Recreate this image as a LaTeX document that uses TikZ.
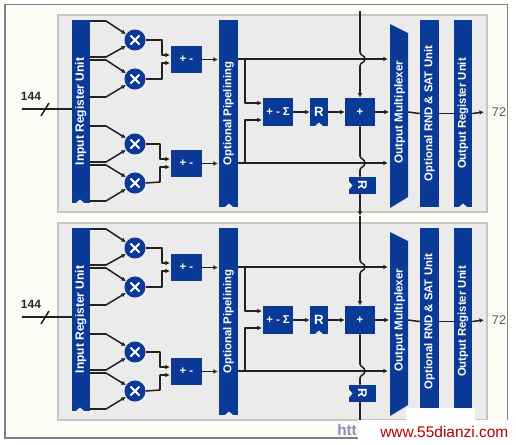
\documentclass[tikz,border=0pt]{standalone}
\usepackage{fontspec}
\setmainfont{Liberation Sans}
\usetikzlibrary{arrows.meta}
\definecolor{xblue}{HTML}{0B3A96}
\definecolor{xpanel}{HTML}{EBEBEB}
\definecolor{xedge}{HTML}{C6C6C6}
\definecolor{xline}{HTML}{222222}
\definecolor{xcream}{HTML}{FDFCF4}
\tikzset{
  lbl/.style={text=white,font=\bfseries\fontsize{8.5}{9}\selectfont},
  bk/.style={fill=xblue,inner sep=0pt,lbl},
  mult/.style={circle,fill=xblue,inner sep=0pt,minimum size=15.8pt},
  wire/.style={draw=xline,line width=1.15pt,line join=round},
  arr/.style={wire,-{Latex[length=3.4pt,width=3.4pt]}},
  notch/.style={fill=xpanel},
}
% block node: name, x1, y1, x2, y2 (reference pixels), text
\newcommand{\bx}[6]{\node[bk,minimum width={(#4-#2)*0.75pt},minimum height={(#5-#3)*0.75pt}] (#1) at ({(#2+#4)/2},{(#3+#5)/2}) {#6};}
\newcommand{\vt}[1]{\rotatebox{90}{#1}}
\newcommand{\ntch}[2]{\path[notch] (#1-4,#2) -- (#1,#2-3.5) -- (#1+4,#2) -- cycle;}
\newcommand{\mulnode}[3]{\node[mult] (#1) at (#2,#3) {};
  \draw[white,line width=1.5pt] ([shift={(-4.5,-4.5)}]#2,#3) -- ([shift={(4.5,4.5)}]#2,#3)
    ([shift={(-4.5,4.5)}]#2,#3) -- ([shift={(4.5,-4.5)}]#2,#3);}
\newcommand{\panel}[2]{%
\begin{scope}[yshift=#2]
  \path[fill=xpanel,draw=xedge,line width=0.8pt] (58,15) rectangle (487,212);
  \bx{#1in}{71.5}{20}{90}{203}{\vt{\fontsize{9}{9}\selectfont Input Register Unit}}\ntch{80}{203}
  \bx{#1pi}{219}{20}{238}{207}{\vt{Optional Pipelining}}\ntch{229}{207}
  \bx{#1s1}{171}{46}{202}{73}{+ -}
  \bx{#1s2}{171}{150}{202}{177}{+ -}
  \mulnode{#1m1}{135}{40}\mulnode{#1m2}{135}{79}\mulnode{#1m3}{135}{144}\mulnode{#1m4}{135}{183}
  \bx{#1sg}{263}{98}{293}{126}{+ - Σ}
  \bx{#1r}{310}{98}{328}{126}{\fontsize{10}{10}\selectfont R}\ntch{319}{126}
  \bx{#1pl}{345}{98}{375}{126}{+}
  \bx{#1rv}{349}{177}{376}{194}{\rotatebox{-90}{\fontsize{9.5}{10}\selectfont R}}
  \path[notch] (349,181.5) -- (352.5,185.5) -- (349,189.5) -- cycle;
  \path[fill=xblue] (390,24) -- (408,33) -- (408,197) -- (390,208) -- cycle;
  \node[lbl,inner sep=0pt] (#1mx) at (399.5,112) {\vt{\fontsize{8.7}{9}\selectfont Output Multiplexer}};
  \bx{#1rn}{420}{20}{439}{207}{\vt{Optional RND \& SAT Unit}}
  \bx{#1og}{454}{20}{472}{207}{\vt{Output Register Unit}}\ntch{463}{207}
  % multiplier inputs
  \draw[arr] (90,21)  -- (106,21)  -- (#1m1.147);
  \draw[arr] (90,57)  -- (106,57)  -- (#1m1.213);
  \draw[arr] (90,60)  -- (106,60)  -- (#1m2.147);
  \draw[arr] (90,97)  -- (106,97)  -- (#1m2.213);
  \draw[arr] (90,126) -- (106,126) -- (#1m3.147);
  \draw[arr] (90,162) -- (106,162) -- (#1m3.213);
  \draw[arr] (90,165) -- (106,165) -- (#1m4.147);
  \draw[arr] (90,201) -- (106,201) -- (#1m4.213);
  % multiplier outputs
  \draw[arr] (#1m1.east) -- (162,40)  -- (162,55)  -- (170,55);
  \draw[arr] (#1m2.east) -- (162,79)  -- (162,63)  -- (170,63);
  \draw[arr] (#1m3.east) -- (160,144) -- (160,159) -- (170,159);
  \draw[arr] (#1m4.east) -- (160,182) -- (160,167) -- (170,167);
  \draw[arr] (#1s1.east) -- (218,59.5);
  \draw[arr] (#1s2.east) -- (218,163.5);
  % pipeline outputs
  \draw[arr] (238,59) -- (388,59);
  \draw[arr] (238,163) -- (388,163);
  \draw[arr] (245,59) -- (245,103) -- (262,103);
  \draw[arr] (245,163) -- (245,120) -- (262,120);
  \draw[arr] (#1sg.east) -- (#1r.west);
  \draw[arr] (#1r.east) -- (#1pl.west);
  \draw[arr] (#1pl.east) -- (389,112);
  \draw[wire] (408,112) -- (#1rn.west);
  \draw[wire] (#1rn.east) -- (#1og.west);
  \draw[arr] (#1og.east) -- (484,112);
  \node[font=\fontsize{9.5}{10}\selectfont,text=black!65] (#1o) at (499,112) {72};
  % input
  \coordinate (#1i) at (22,109);
  \draw[wire] (#1i) -- (71.5,109);
  \draw[wire] (41,116) -- (49,103);
  \node[font=\bfseries\fontsize{9}{9}\selectfont,text=black!85] (#1n) at (31,96) {144};
  % vertical bus through plus and R
  \draw[wire] (#1pl.south) -- (360,156) .. controls (360,159) and (365,159) .. (365,163) .. controls (365,167) and (360,167) .. (360,170) -- (#1rv.north -| #1pl.south);
\end{scope}}
\begin{document}
\begin{tikzpicture}[x=0.75pt,y=-0.75pt]
\useasboundingbox (0,0) rectangle (516,444);
\path[fill=white] (0,0) rectangle (516,444);
\path[fill=xcream,draw=black!50,line width=1pt] (5,4.5) rectangle (507.5,438);
\panel{a}{0pt}
\panel{b}{-156pt}
% bus
\coordinate (top) at (360,11);
\coordinate (end) at (360,420);
\draw[arr] (top) -- (360,52) .. controls (360,56) and (365,55) .. (365,59) .. controls (365,63) and (360,62) .. (360,66) -- (apl.north);
\draw[arr] (arv.south -| apl.south) -- (360,216);
\draw[arr] (360,216) -- (360,260) .. controls (360,264) and (365,263) .. (365,267) .. controls (365,271) and (360,270) .. (360,274) -- (bpl.north);
\draw[wire] (brv.south -| bpl.south) -- (end);
% watermark
\path[fill=white] (358,420) rectangle (516,444);
\path[fill=white] (406,408) rectangle (475,420);
\node[font=\bfseries\fontsize{11.5}{12}\selectfont,text=black!55!blue!45,anchor=west,inner sep=0pt] (h) at (337,430) {htt};
\node[font=\fontsize{11.6}{14}\selectfont,text=red!70!black,anchor=west,inner sep=0pt] (w) at (380,432) {www.55dianzi.com};
\end{tikzpicture}
\end{document}
